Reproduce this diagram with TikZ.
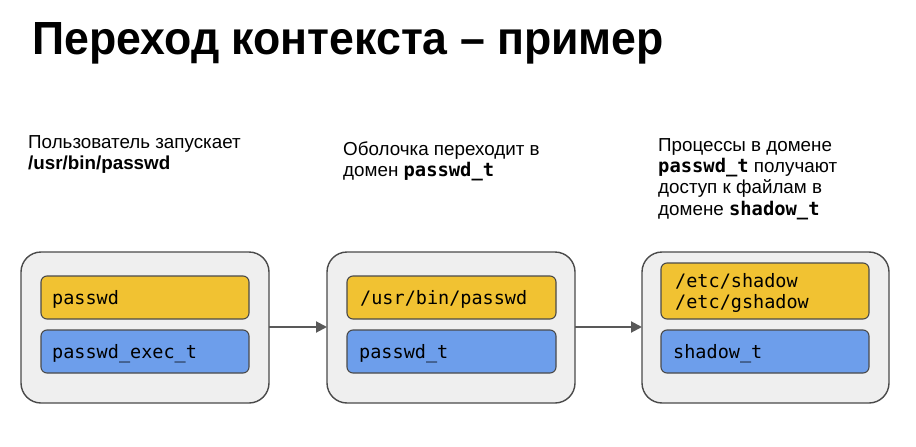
\documentclass[tikz,border=0pt]{standalone}
\usepackage{fontspec}
\setmainfont{Liberation Sans}
\setmonofont{DejaVu Sans Mono}
\newfontfamily\titlefont[FakeStretch=0.96]{Liberation Sans}
\usetikzlibrary{arrows.meta}
\definecolor{outerfill}{HTML}{EFEFEF}
\definecolor{outerdraw}{HTML}{4A4A4A}
\definecolor{yel}{HTML}{F1C232}
\definecolor{blu}{HTML}{6D9EEB}
\definecolor{arr}{HTML}{595959}
\tikzset{
  outerbox/.style={draw=outerdraw, fill=outerfill, line width=1.4pt, rounded corners=20pt},
  ybox/.style={draw=outerdraw, fill=yel, line width=1.1pt, rounded corners=6pt},
  bbox/.style={draw=outerdraw, fill=blu, line width=1.1pt, rounded corners=6pt},
  boxtext/.style={anchor=base west, inner sep=0pt, font=\fontsize{18.5}{21}\selectfont\ttfamily},
  lbl/.style={anchor=base west, inner sep=0pt, font=\fontsize{18.8}{21}\selectfont},
  flow/.style={draw=arr, line width=2pt, -{Triangle[length=11pt,width=11pt]}}
}
\begin{document}
\begin{tikzpicture}[x=1pt,y=-1pt]
\useasboundingbox (0,0) rectangle (916,447);
% title
\node[anchor=base west, inner sep=0pt, font=\fontsize{46.5}{50}\selectfont\titlefont\bfseries] (title) at (32,54) {Переход контекста – пример};
% labels
\node[lbl] (l1a) at (28,148) {Пользователь запускает};
\node[lbl] (l1b) at (28,169) {\bfseries /usr/bin/passwd};
\node[lbl] (l2a) at (343,155) {Оболочка переходит в};
\node[lbl] (l2b) at (343,176) {домен \texttt{\bfseries passwd\_t}};
\node[lbl] (l3a) at (658,151) {Процессы в домене};
\node[lbl] (l3b) at (658,172) {\texttt{\bfseries passwd\_t} получают};
\node[lbl] (l3c) at (658,193) {доступ к файлам в};
\node[lbl] (l3d) at (658,215) {домене \texttt{\bfseries shadow\_t}};
% outer boxes
\path[outerbox] (21,252) rectangle (269,403);
\path[outerbox] (327,252) rectangle (575,403);
\path[outerbox] (642,252) rectangle (889,403);
\coordinate (o1e) at (269,327);
\coordinate (o2w) at (327,327);
\coordinate (o2e) at (575,327);
\coordinate (o3w) at (642,327);
% inner boxes
\path[ybox] (41,276) rectangle (249,319);
\path[bbox] (41,330) rectangle (249,373);
\path[ybox] (347,276) rectangle (556,319);
\path[bbox] (347,330) rectangle (556,373);
\path[ybox] (661,263) rectangle (869,319);
\path[bbox] (661,330) rectangle (869,373);
% texts
\node[boxtext] (t1a) at (52,304) {passwd};
\node[boxtext] (t1b) at (52,358) {passwd\_exec\_t};
\node[boxtext] (t2a) at (360,304) {/usr/bin/passwd};
\node[boxtext] (t2b) at (359,358) {passwd\_t};
\node[boxtext] (t3a) at (675,287) {/etc/shadow};
\node[boxtext] (t3b) at (675,308) {/etc/gshadow};
\node[boxtext] (t3c) at (673,358) {shadow\_t};
% arrows
\draw[flow] (o1e) -- (o2w);
\draw[flow] (o2e) -- (o3w);
\end{tikzpicture}
\end{document}
